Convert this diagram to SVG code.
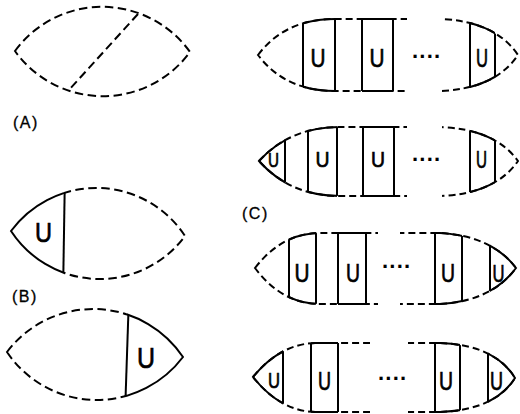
<svg xmlns="http://www.w3.org/2000/svg" xmlns:xlink="http://www.w3.org/1999/xlink" width="520" height="414" viewBox="0 0 520 414">
<style>
.d{fill:none;stroke:#000;stroke-width:2;stroke-dasharray:8.5 4.5}
.dr{fill:none;stroke:#000;stroke-width:2;stroke-dasharray:7 4}
.s{fill:none;stroke:#000;stroke-width:2}
.u{font-family:"Liberation Sans",Arial,sans-serif;text-anchor:middle;fill:#000;stroke:#000;stroke-width:0.7}
.lbl{font-family:"Liberation Sans",Arial,sans-serif;font-size:16px;letter-spacing:1.5px;fill:#000;stroke:#000;stroke-width:0.3}
.dots{font-family:"Liberation Sans",Arial,sans-serif;font-size:22px;font-weight:bold;fill:#000}
</style>
<defs>
<path id="lA" d="M15,51 A108,108 0 0 1 190,52 A108,108 0 0 1 15,51 Z"/>
<path id="lB1" d="M11,231 A106,106 0 0 1 185,236 A106,106 0 0 1 11,231 Z"/>
<path id="lB2" d="M7,352 A108,108 0 0 1 183,357 A108,108 0 0 1 7,352 Z"/>
<path id="r1" d="M258,55 Q285,19 335,19 L440,19 Q495,21 518,55 Q495,89 440,91 L335,91 Q285,91 258,55 Z"/>
<path id="r2" d="M259,161 Q290,127 340,127 L440,127 Q495,129 518,161 Q495,194 440,196 L340,196 Q290,196 259,161 Z"/>
<path id="r3" d="M255,268 Q282,233 320,233 L440,233 Q492,236 516,268 Q492,301 440,304 L320,304 Q282,304 255,268 Z"/>
<path id="r4" d="M253,377 Q280,344 315,343 L440,343 Q495,345 515,378 Q495,410 440,412 L315,412 Q280,411 253,377 Z"/>
<clipPath id="cB1in"><use xlink:href="#lB1"/></clipPath>
<clipPath id="cB1s"><rect x="0" y="0" width="64" height="414"/></clipPath>
<clipPath id="cB1d"><rect x="64" y="0" width="456" height="414"/></clipPath>
<clipPath id="cB2in"><use xlink:href="#lB2"/></clipPath>
<clipPath id="cB2s"><rect x="127" y="0" width="393" height="414"/></clipPath>
<clipPath id="cB2d"><rect x="0" y="0" width="127" height="414"/></clipPath>
<clipPath id="c1in"><use xlink:href="#r1"/></clipPath>
<clipPath id="c1d"><rect x="0" y="0" width="407" height="414"/><rect x="442" y="0" width="78" height="414"/></clipPath>
<clipPath id="c1s"><rect x="303" y="0" width="32" height="414"/><rect x="362" y="0" width="31" height="414"/><rect x="470" y="0" width="25" height="414"/></clipPath>
<clipPath id="c2in"><use xlink:href="#r2"/></clipPath>
<clipPath id="c2d"><rect x="0" y="0" width="407" height="414"/><rect x="442" y="0" width="78" height="414"/></clipPath>
<clipPath id="c2s"><rect x="0" y="0" width="285" height="414"/><rect x="308" y="0" width="29" height="414"/><rect x="363" y="0" width="31" height="414"/><rect x="470" y="0" width="25" height="414"/></clipPath>
<clipPath id="c3in"><use xlink:href="#r3"/></clipPath>
<clipPath id="c3d"><rect x="0" y="0" width="378" height="414"/><rect x="400" y="0" width="120" height="414"/></clipPath>
<clipPath id="c3s"><rect x="289" y="0" width="27" height="414"/><rect x="338" y="0" width="28" height="414"/><rect x="435" y="0" width="27" height="414"/><rect x="490" y="0" width="30" height="414"/></clipPath>
<clipPath id="c4in"><use xlink:href="#r4"/></clipPath>
<clipPath id="c4d"><rect x="0" y="0" width="370" height="414"/><rect x="408" y="0" width="112" height="414"/></clipPath>
<clipPath id="c4s"><rect x="0" y="0" width="283" height="414"/><rect x="311" y="0" width="27" height="414"/><rect x="435" y="0" width="25" height="414"/><rect x="488" y="0" width="32" height="414"/></clipPath>
</defs>

<g id="fig-A">
<use xlink:href="#lA" class="d"/>
<line x1="138" y1="14" x2="68" y2="91" class="d"/>
<text x="13" y="128" class="lbl">(A)</text>
</g>

<g id="fig-B1">
<use xlink:href="#lB1" class="d" clip-path="url(#cB1d)"/>
<use xlink:href="#lB1" class="s" clip-path="url(#cB1s)"/>
<line x1="65" y1="170" x2="63" y2="295" class="s" clip-path="url(#cB1in)"/>
<text x="43.5" y="242" class="u" font-size="28" textLength="17" lengthAdjust="spacingAndGlyphs">U</text>
</g>

<g id="fig-B2">
<text x="12" y="302" class="lbl">(B)</text>
<use xlink:href="#lB2" class="d" clip-path="url(#cB2d)"/>
<use xlink:href="#lB2" class="s" clip-path="url(#cB2s)"/>
<line x1="129" y1="295" x2="125" y2="414" class="s" clip-path="url(#cB2in)"/>
<text x="146" y="368" class="u" font-size="29" textLength="18" lengthAdjust="spacingAndGlyphs">U</text>
</g>

<g id="row-C1">
<use xlink:href="#r1" class="dr" clip-path="url(#c1d)"/>
<use xlink:href="#r1" class="s" clip-path="url(#c1s)"/>
<g clip-path="url(#c1in)" class="s">
<line x1="303" y1="0" x2="303" y2="110"/><line x1="335" y1="0" x2="335" y2="110"/>
<line x1="362" y1="0" x2="362" y2="110"/><line x1="393" y1="0" x2="393" y2="110"/>
<line x1="470" y1="0" x2="470" y2="110"/><line x1="495" y1="0" x2="495" y2="110"/>
</g>
<text x="318" y="67" class="u" font-size="26" textLength="15" lengthAdjust="spacingAndGlyphs">U</text>
<text x="377" y="67" class="u" font-size="26" textLength="15" lengthAdjust="spacingAndGlyphs">U</text>
<text x="482" y="67" class="u" font-size="26" textLength="12" lengthAdjust="spacingAndGlyphs">U</text>
<text x="412" y="64" class="dots">····</text>
</g>

<g id="row-C2">
<use xlink:href="#r2" class="dr" clip-path="url(#c2d)"/>
<use xlink:href="#r2" class="s" clip-path="url(#c2s)"/>
<g clip-path="url(#c2in)" class="s">
<line x1="285" y1="100" x2="285" y2="215"/>
<line x1="308" y1="100" x2="308" y2="215"/><line x1="337" y1="100" x2="337" y2="215"/>
<line x1="363" y1="100" x2="363" y2="215"/><line x1="394" y1="100" x2="394" y2="215"/>
<line x1="470" y1="100" x2="470" y2="215"/><line x1="495" y1="100" x2="495" y2="215"/>
</g>
<text x="273.5" y="167" class="u" font-size="20" textLength="11" lengthAdjust="spacingAndGlyphs">U</text>
<text x="322.5" y="167" class="u" font-size="22" textLength="14" lengthAdjust="spacingAndGlyphs">U</text>
<text x="378" y="167" class="u" font-size="22" textLength="14" lengthAdjust="spacingAndGlyphs">U</text>
<text x="481.5" y="168" class="u" font-size="23" textLength="11" lengthAdjust="spacingAndGlyphs">U</text>
<text x="412" y="167" class="dots">····</text>
</g>

<text id="label-C" x="242" y="219" class="lbl">(C)</text>

<g id="row-C3">
<use xlink:href="#r3" class="dr" clip-path="url(#c3d)"/>
<use xlink:href="#r3" class="s" clip-path="url(#c3s)"/>
<g clip-path="url(#c3in)" class="s">
<line x1="289" y1="215" x2="289" y2="320"/><line x1="316" y1="215" x2="316" y2="320"/>
<line x1="338" y1="215" x2="338" y2="320"/><line x1="366" y1="215" x2="366" y2="320"/>
<line x1="435" y1="215" x2="435" y2="320"/><line x1="462" y1="215" x2="462" y2="320"/>
<line x1="490" y1="215" x2="490" y2="320"/>
</g>
<text x="302" y="282" class="u" font-size="26" textLength="15" lengthAdjust="spacingAndGlyphs">U</text>
<text x="353" y="282" class="u" font-size="26" textLength="14" lengthAdjust="spacingAndGlyphs">U</text>
<text x="448" y="282" class="u" font-size="26" textLength="14" lengthAdjust="spacingAndGlyphs">U</text>
<text x="498.5" y="282" class="u" font-size="23" textLength="12" lengthAdjust="spacingAndGlyphs">U</text>
<text x="382" y="274" class="dots">····</text>
</g>

<g id="row-C4">
<use xlink:href="#r4" class="dr" clip-path="url(#c4d)"/>
<use xlink:href="#r4" class="s" clip-path="url(#c4s)"/>
<g clip-path="url(#c4in)" class="s">
<line x1="283" y1="320" x2="283" y2="414"/>
<line x1="311" y1="320" x2="311" y2="414"/><line x1="338" y1="320" x2="338" y2="414"/>
<line x1="435" y1="320" x2="435" y2="414"/><line x1="460" y1="320" x2="460" y2="414"/>
<line x1="488" y1="320" x2="488" y2="414"/>
</g>
<text x="274" y="388" class="u" font-size="22" textLength="12" lengthAdjust="spacingAndGlyphs">U</text>
<text x="324.5" y="390" class="u" font-size="25" textLength="13" lengthAdjust="spacingAndGlyphs">U</text>
<text x="446" y="390" class="u" font-size="25" textLength="14" lengthAdjust="spacingAndGlyphs">U</text>
<text x="496.5" y="390" class="u" font-size="25" textLength="13" lengthAdjust="spacingAndGlyphs">U</text>
<text x="378" y="386" class="dots">····</text>
</g>
</svg>
